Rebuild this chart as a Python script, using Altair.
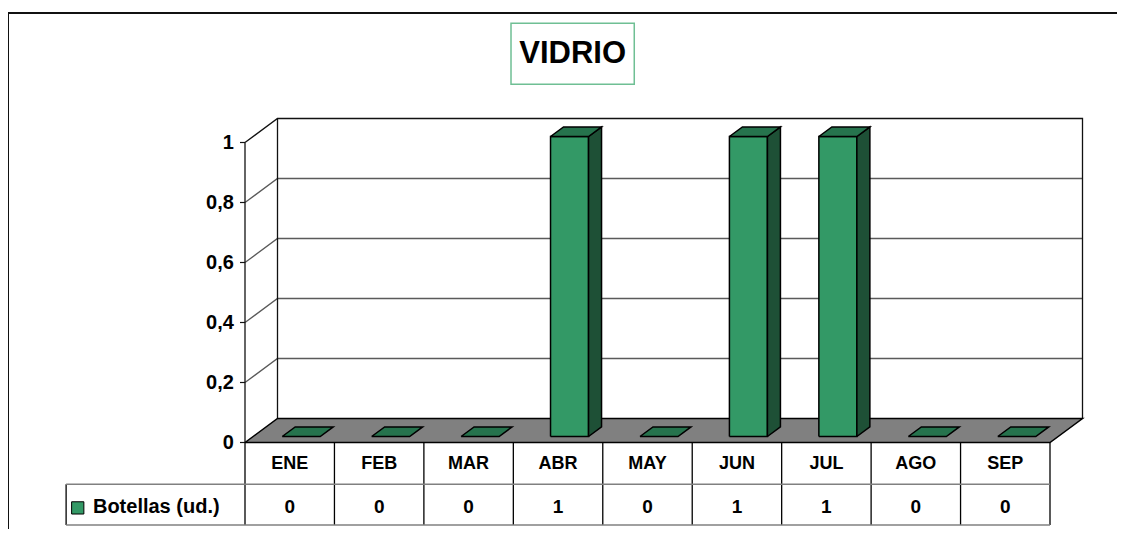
import altair as alt
import pandas as pd

# ---------------- data ----------------
months = ["ENE", "FEB", "MAR", "ABR", "MAY", "JUN", "JUL", "AGO", "SEP"]
botellas = [0, 0, 0, 1, 0, 1, 1, 0, 0]
tick_values = [0, 0.2, 0.4, 0.6, 0.8, 1.0]
tick_labels = ["0", "0,2", "0,4", "0,6", "0,8", "1"]
value_labels = ["0", "0", "0", "1", "0", "1", "1", "0", "0"]
series_name = "Botellas (ud.)"
title_text = "VIDRIO"

# ---------------- layout (data units: x = month slots, y = value) ----------------
W, H = 1109, 516
SLOT = 805 / 9            # px per month slot
UNIT = 300.0              # px per value unit
X0_PX, Y0_PX = 237, 429.5
XMIN, XMAX = -X0_PX / SLOT, (W - X0_PX) / SLOT
YMAX, YMIN = Y0_PX / UNIT, (Y0_PX - H) / UNIT
DX, DY = 32.5 / SLOT, 24 / UNIT   # depth vector
N = len(months)
VMAX = 1.0

xs = alt.Scale(domain=[XMIN, XMAX], nice=False, zero=False)
ys = alt.Scale(domain=[YMIN, YMAX], nice=False, zero=False)
X = alt.X("x:Q", scale=xs, axis=None)
Y = alt.Y("y:Q", scale=ys, axis=None)


def P(x, v, d):
    return (x + d * DX, v + d * DY)


def add_poly(rows, pid, pts, closed=True):
    if closed:
        pts = pts + [pts[0]]
    for k, (x, y) in enumerate(pts):
        rows.append({"poly": pid, "ord": k, "x": x, "y": y})


def poly_layer(rows, stroke, sw, fill=None):
    kw = dict(stroke=stroke, strokeWidth=sw, strokeJoin="miter")
    if fill is not None:
        kw["fill"] = fill
    return alt.Chart(pd.DataFrame(rows)).mark_line(**kw).encode(
        x=X, y=Y, detail="poly:N", order="ord:Q")


def rule_layer(rows, stroke, sw):
    return alt.Chart(pd.DataFrame(rows)).mark_rule(stroke=stroke, strokeWidth=sw).encode(
        x=X, y=Y, x2="x2:Q", y2="y2:Q")


# walls: gridlines (side diagonal + back horizontal)
grid_rows = []
for i, v in enumerate(tick_values[1:-1]):
    add_poly(grid_rows, i, [P(0, v, 0), P(0, v, 1), P(N, v, 1)], closed=False)
top_rows = []
add_poly(top_rows, 0, [P(0, VMAX, 0), P(0, VMAX, 1), P(N, VMAX, 1), P(N, 0, 1)], closed=False)
edge_rows = []
add_poly(edge_rows, 0, [P(0, 0, 1), P(0, VMAX, 1)], closed=False)
add_poly(edge_rows, 1, [P(0, 0, 0), P(0, VMAX, 0)], closed=False)

# floor
floor_rows = []
add_poly(floor_rows, 0, [P(0, 0, 0), P(N, 0, 0), P(N, 0, 1), P(0, 0, 1)])

# bars
A, B, D0, D1 = 0.325, 0.75, 0.25, 0.65
front_rows, side_rows, topf_rows = [], [], []
for i, v in enumerate(botellas):
    if v > 0:
        add_poly(front_rows, i, [P(i + A, 0, D0), P(i + B, 0, D0), P(i + B, v, D0), P(i + A, v, D0)])
        add_poly(side_rows, i, [P(i + B, 0, D0), P(i + B, 0, D1), P(i + B, v, D1), P(i + B, v, D0)])
    add_poly(topf_rows, i, [P(i + A, v, D0), P(i + B, v, D0), P(i + B, v, D1), P(i + A, v, D1)])

# axis ticks + labels
tick_rows = [{"x": -0.056, "x2": 0, "y": v, "y2": v} for v in tick_values]
axis_df = pd.DataFrame({"x": [-0.125] * len(tick_values), "y": tick_values, "t": tick_labels})

# data table
ROW1, ROW2 = -0.1393, -0.275
LEFT = -2.0
tab_v = [{"x": i, "x2": i, "y": 0, "y2": ROW2} for i in range(N + 1)]
tab_v.append({"x": LEFT, "x2": LEFT, "y": ROW1, "y2": ROW2})
tab_h = [{"x": LEFT, "x2": N, "y": ROW1, "y2": ROW1},
         {"x": LEFT, "x2": N, "y": ROW2, "y2": ROW2}]
head_df = pd.DataFrame({"x": [i + 0.5 for i in range(N)], "y": [-0.07] * N, "t": months})
val_df = pd.DataFrame({"x": [i + 0.5 for i in range(N)], "y": [-0.216] * N, "t": value_labels})
leg_sq = pd.DataFrame({"x": [-1.87], "y": [-0.218]})
leg_tx = pd.DataFrame({"x": [-1.70], "y": [-0.216], "t": [series_name]})

# title + frame
title_box = pd.DataFrame({"x": [2.974], "x2": [4.352], "y": [1.3973], "y2": [1.194]})
title_df = pd.DataFrame({"x": [3.663], "y": [1.2957], "t": [title_text]})
frame_rows = [{"x": XMIN, "x2": XMAX, "y": YMAX, "y2": YMAX},
              {"x": XMIN, "x2": XMIN, "y": YMAX, "y2": YMIN}]

FONT = "Liberation Sans"

layers = [
    poly_layer(grid_rows, "#5a5a5a", 1.3),
    poly_layer(top_rows, "#111111", 1.3),
    poly_layer(edge_rows, "#111111", 1.3),
    poly_layer(floor_rows, "#000000", 1.5, fill="#808080"),
    poly_layer(front_rows, "#000000", 1.5, fill="#339966"),
    poly_layer(side_rows, "#000000", 1.5, fill="#1e5036"),
    poly_layer(topf_rows, "#000000", 1.5, fill="#26734d"),
    rule_layer(tick_rows, "#111111", 1.2),
    alt.Chart(axis_df).mark_text(align="right", baseline="middle", font=FONT,
                                 fontSize=20, fontWeight="bold", color="black").encode(
        x=X, y=Y, text="t:N"),
    rule_layer(tab_v, "#000000", 1.3),
    rule_layer(tab_h, "#808080", 1.5),
    alt.Chart(head_df).mark_text(align="center", baseline="middle", font=FONT,
                                 fontSize=18, fontWeight="bold", color="black").encode(
        x=X, y=Y, text="t:N"),
    alt.Chart(val_df).mark_text(align="center", baseline="middle", font=FONT,
                                fontSize=19, fontWeight="bold", color="black").encode(
        x=X, y=Y, text="t:N"),
    alt.Chart(leg_sq).mark_square(size=150, filled=True, fill="#339966", stroke="black",
                                  strokeWidth=1, opacity=1).encode(x=X, y=Y),
    alt.Chart(leg_tx).mark_text(align="left", baseline="middle", font=FONT,
                                fontSize=20, fontWeight="bold", color="black").encode(
        x=X, y=Y, text="t:N"),
    alt.Chart(title_box).mark_rect(fill="white", stroke="#6fbf94", strokeWidth=1.5).encode(
        x=X, y=Y, x2="x2:Q", y2="y2:Q"),
    alt.Chart(title_df).mark_text(align="center", baseline="middle", font=FONT,
                                  fontSize=31, fontWeight="bold", color="black").encode(
        x=X, y=Y, text="t:N"),
    rule_layer(frame_rows, "#111111", 2),
]

chart = alt.layer(*layers).properties(
    width=W, height=H, autosize="none",
    padding={"left": 0, "top": 5, "right": 0, "bottom": 0},
).configure_view(stroke=None).configure(background="white")

chart.save("out.html", embed_options={"renderer": "svg", "actions": False})
